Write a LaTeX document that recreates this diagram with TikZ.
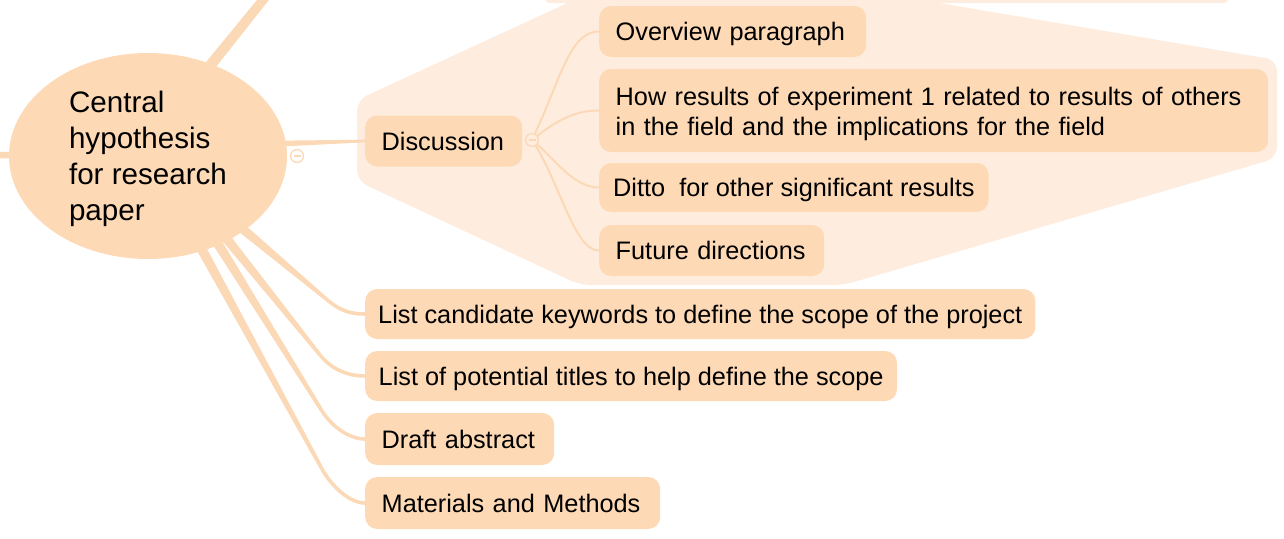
\documentclass[tikz,border=0pt]{standalone}
\usepackage{fontspec}
\setmainfont{Liberation Sans}
\usetikzlibrary{calc,backgrounds,shapes.geometric}
\definecolor{nodefill}{HTML}{FDD9B5}
\definecolor{grpfill}{HTML}{FEEDDF}
\definecolor{linec}{HTML}{FCD9B6}
\newcommand\taperline[4]{%
  \fill[linec] ($(#1)!#3!90:(#2)$) -- ($(#2)!#4!-90:(#1)$) -- ($(#2)!#4!90:(#1)$) -- ($(#1)!#3!-90:(#2)$) -- cycle;}
\tikzset{
  topic/.style={fill=nodefill, rounded corners=12pt, anchor=west, inner xsep=16.5pt, inner ysep=0pt,
    minimum height=51pt, font=\fontsize{25.3}{30}\selectfont, align=left, text=black},
  oneline/.style={topic, text height=18.2pt, text depth=0pt},
  central/.style={ellipse, fill=nodefill, minimum width=278pt, minimum height=206pt, inner sep=0pt,
    font=\fontsize{29.6}{36}\selectfont, align=left, text=black, text depth=0pt},
  collapse/.style={circle, draw=linec, line width=1.3pt, minimum size=13pt, inner sep=0pt},
  branch/.style={draw=linec, line width=2pt},
  trunk/.style={draw=linec, line width=3.6pt},
}
\begin{document}
\begin{tikzpicture}[x=1pt,y=-1pt]
\useasboundingbox (0,0) rectangle (1284,538);
\clip (0,0) rectangle (1284,538);
% central topic
\node[central] (c) at (148,156) {Central\\hypothesis\\for research\\paper};
% topics
\node[oneline, text width=124pt] (disc) at (365,141) {Discussion};
\node[oneline, text width=234pt] (ov) at (599,31.5) {Overview paragraph};
\node[topic, minimum height=83pt, text width=636pt, text depth=29.3pt] (how) at (599,110.5) {How results of experiment 1 related to results of others\\in the field and the implications for the field};
\node[oneline, minimum height=49pt, inner xsep=14pt] (ditto) at (599,187.5) {Ditto~ for other significant results};
\node[oneline, text width=192pt] (fut) at (599,250.5) {Future directions};
\node[oneline, minimum height=50pt, inner xsep=13pt] (kw) at (365,314) {List candidate keywords to define the scope of the project};
\node[oneline, minimum height=50pt, inner xsep=13.5pt] (tit) at (365,376) {List of potential titles to help define the scope};
\node[oneline, minimum height=52pt, text width=156pt] (abs) at (365,439) {Draft abstract};
\node[oneline, minimum height=52pt, text width=262pt] (mm) at (365,503) {Materials and Methods};
% collapse buttons
\node[collapse, fill=white] (k1) at (297,156) {};
\node[collapse, fill=grpfill] (k2) at (532,140) {};
\draw[linec, line width=1.3pt] ($(k1.center)+(-3.5,0)$) -- ($(k1.center)+(3.5,0)$);
\draw[linec, line width=1.3pt] ($(k2.center)+(-3.5,0)$) -- ($(k2.center)+(3.5,0)$);
% named free ends and bends
\coordinate (tl0) at (205,72);
\coordinate (tl1) at (271,-10);
\coordinate (lf0) at (-5,155);
\coordinate (ds0) at (268,144);
\coordinate (s1) at (232,220); \coordinate (p1) at (325,298);
\coordinate (s2) at (218,228); \coordinate (p2) at (320,355);
\coordinate (s3) at (210,231); \coordinate (p3) at (322,411);
\coordinate (s4) at (195,237); \coordinate (p4) at (322,469);
\begin{scope}[on background layer]
  \clip (0,0) rectangle (1284,538);
  % group backgrounds
  \fill[grpfill, rounded corners=4pt] (545,-10) rectangle (1228,3);
  \fill[grpfill, rounded corners=11pt] (357,100) -- (600,-12) -- (850,-12) -- (1277,60) -- (1277,158) -- (844,285) -- (580,285) -- (357,181) -- cycle;
  % main branches
  \taperline{tl0}{tl1}{5.5pt}{4.5pt}
  \draw[linec, line width=6.5pt] (lf0) -- (c.center);
  \taperline{ds0}{disc.west}{3.2pt}{1.3pt}
  \taperline{s1}{p1}{5pt}{1.8pt}
  \draw[trunk] (p1) .. controls (340,311) and (350,314) .. (kw.west);
  \taperline{s2}{p2}{5pt}{1.8pt}
  \draw[trunk] (p2) .. controls (333,371) and (350,376) .. (tit.west);
  \taperline{s3}{p3}{5pt}{1.8pt}
  \draw[trunk] (p3) .. controls (333,428) and (350,439) .. (abs.west);
  \taperline{s4}{p4}{5pt}{1.8pt}
  \draw[trunk] (p4) .. controls (332,487) and (350,503) .. (mm.west);
  % sub branches of Discussion
  \draw[branch] (k2) .. controls (560,80) and (570,31) .. (ov.west);
  \draw[branch] (k2) .. controls (555,122) and (575,110) .. (how.west);
  \draw[branch] (k2) .. controls (555,160) and (575,188) .. (ditto.west);
  \draw[branch] (k2) .. controls (560,185) and (575,251) .. (fut.west);
\end{scope}
\end{tikzpicture}
\end{document}
